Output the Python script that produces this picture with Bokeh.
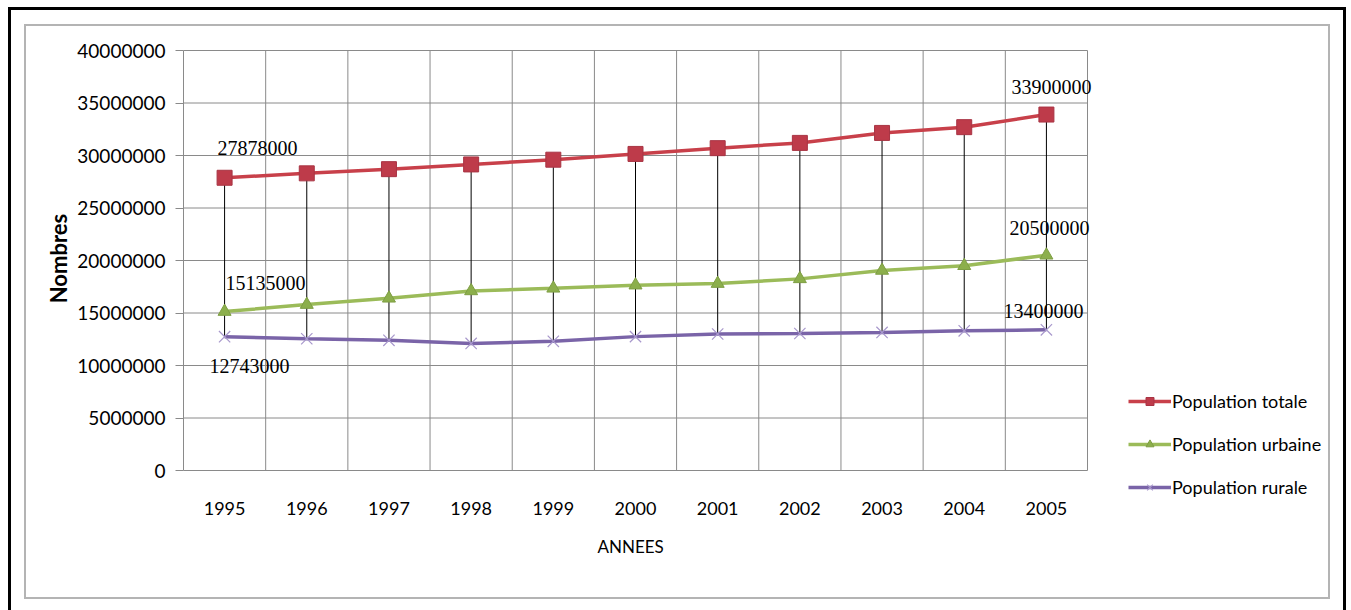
from bokeh.plotting import figure
from bokeh.models import (ColumnDataSource, FixedTicker, NumeralTickFormatter,
                          Legend, LegendItem, Range1d, InlineStyleSheet, Title)
from bokeh.core.properties import value
from bokeh.embed import file_html
from bokeh.resources import INLINE

# Population de 1995 a 2005
years = ["1995", "1996", "1997", "1998", "1999", "2000",
         "2001", "2002", "2003", "2004", "2005"]
total = [27878000, 28300000, 28700000, 29150000, 29600000, 30150000,
         30700000, 31200000, 32150000, 32700000, 33900000]
urban = [15135000, 15800000, 16400000, 17100000, 17350000, 17650000,
         17800000, 18250000, 19050000, 19500000, 20500000]
rural = [12743000, 12550000, 12400000, 12100000, 12300000, 12750000,
         13000000, 13050000, 13150000, 13300000, 13400000]
y_ticks = [0, 5000000, 10000000, 15000000, 20000000,
           25000000, 30000000, 35000000, 40000000]

series_names = ["Population totale", "Population urbaine", "Population rurale"]

idx = list(range(len(years)))
bounds_x = [i - 0.5 for i in range(len(years) + 1)]
x_lo, x_hi = bounds_x[0], bounds_x[-1]
y_lo, y_hi = y_ticks[0], y_ticks[-1]

SANS = "Lato"
SERIF = "Liberation Serif"

# page geometry (px): the drawing frame is larger than the plotting area
# (x 183..1087, y 50..470) so the legend beside it is not clipped
W, H = 1351, 610
B_LEFT, B_RIGHT, B_TOP, B_BOTTOM = 183, 22, 17, 111
AREA_LEFT, AREA_RIGHT, AREA_TOP, AREA_BOTTOM = 183, 1087, 50, 470
px_x = (x_hi - x_lo) / (AREA_RIGHT - AREA_LEFT)
px_y = (y_hi - y_lo) / (AREA_BOTTOM - AREA_TOP)
x_end = x_hi + px_x * ((W - B_RIGHT) - AREA_RIGHT)
y_start = y_lo - px_y * ((H - B_BOTTOM) - AREA_BOTTOM)
y_end = y_hi + px_y * (AREA_TOP - B_TOP)

p = figure(width=W, height=H, output_backend="svg", toolbar_location=None,
           x_range=Range1d(x_lo, x_end), y_range=Range1d(y_start, y_end),
           min_border_left=B_LEFT, min_border_right=B_RIGHT,
           min_border_top=B_TOP, min_border_bottom=B_BOTTOM)
p.background_fill_color = "white"
p.border_fill_color = "white"
p.outline_line_color = None
p.xgrid.grid_line_color = None
p.ygrid.grid_line_color = None

GRID = "#8a8a8a"

# grid of the plotting area: horizontal at y ticks, vertical at year boundaries
p.segment(x0=[x_lo] * len(y_ticks), y0=y_ticks, x1=[x_hi] * len(y_ticks), y1=y_ticks,
          line_color=GRID, line_width=1)
p.segment(x0=bounds_x, y0=[y_lo] * len(bounds_x), x1=bounds_x, y1=[y_hi] * len(bounds_x),
          line_color=GRID, line_width=1)

# y axis
p.yaxis.bounds = (y_lo, y_hi)
p.yaxis.ticker = FixedTicker(ticks=y_ticks)
p.yaxis.formatter = NumeralTickFormatter(format="0")
p.yaxis.axis_line_color = GRID
p.yaxis.major_tick_line_color = GRID
p.yaxis.major_tick_out = 8
p.yaxis.major_tick_in = 0
p.yaxis.minor_tick_line_color = None
p.yaxis.major_label_standoff = 10
p.yaxis.major_label_text_font = SANS
p.yaxis.major_label_text_font_size = "19px"
p.yaxis.major_label_text_color = "black"
p.yaxis.axis_label = "Nombres"
p.yaxis.axis_label_text_font = SANS
p.yaxis.axis_label_text_font_size = "22px"
p.yaxis.axis_label_text_font_style = "bold"
p.yaxis.axis_label_text_color = "black"
p.yaxis.axis_label_standoff = 2

# x axis: year labels just under the zero line
p.xaxis.ticker = FixedTicker(ticks=idx)
p.xaxis.major_label_overrides = {i: y for i, y in zip(idx, years)}
p.xaxis.axis_line_color = None
p.xaxis.major_tick_line_color = None
p.xaxis.minor_tick_line_color = None
p.xaxis.major_label_standoff = -4
p.xaxis.major_label_text_font = SANS
p.xaxis.major_label_text_font_size = "18px"
p.xaxis.major_label_text_color = "black"

p.add_layout(Title(text="ANNEES", align="left", offset=414, standoff=33,
                   text_font=SANS, text_font_size="17px", text_font_style="normal",
                   text_color="black"), "below")

src = ColumnDataSource(dict(x=idx, year=years, total=total, urban=urban, rural=rural))

# high-low lines between the top and bottom series
p.segment(x0="x", y0="rural", x1="x", y1="total", source=src,
          line_color="black", line_width=1)

r_tot_l = p.line("x", "total", source=src, line_color="#C8404A", line_width=3.5)
r_tot_m = p.scatter("x", "total", source=src, marker="square", size=15,
                    fill_color="#BE3B4A", line_color="#A83444", line_width=1)
r_urb_l = p.line("x", "urban", source=src, line_color="#9BBB59", line_width=3.5)
r_urb_m = p.scatter("x", "urban", source=src, marker="triangle", size=13,
                    fill_color="#8CAF4C", line_color="#7E9E44", line_width=1)
r_rur_l = p.line("x", "rural", source=src, line_color="#7A64A8", line_width=3.5)
r_rur_m = p.scatter("x", "rural", source=src, marker="x", size=16,
                    line_color="#A898CC", line_width=1.2)

# value labels on the first and last years
first, last = 0, len(years) - 1
lab_x = [first, first, first, last, last, last]
lab_y = [total[first], urban[first], rural[first], total[last], urban[last], rural[last]]
lab_dx = [33, 41, 25, 5, 3, -3]
lab_dy = [-30, -29, 29, -28, -27, -19]
p.text(x=lab_x, y=lab_y, text=[str(v) for v in lab_y],
       x_offset=lab_dx, y_offset=lab_dy,
       text_align="center", text_baseline="middle",
       text_font=value(SERIF), text_font_size="20px", text_color="black")

legend = Legend(items=[
    LegendItem(label=series_names[0], renderers=[r_tot_l, r_tot_m]),
    LegendItem(label=series_names[1], renderers=[r_urb_l, r_urb_m]),
    LegendItem(label=series_names[2], renderers=[r_rur_l, r_rur_m]),
], location=(945, 1))
legend.border_line_color = None
legend.background_fill_alpha = 0
legend.padding = 0
legend.margin = 0
legend.spacing = 21
legend.glyph_width = 43
legend.glyph_height = 20
legend.label_height = 20
legend.label_standoff = 1
legend.label_text_font = SANS
legend.label_text_font_size = "18px"
legend.label_text_color = "black"
p.add_layout(legend, "center")

# outer black frame and inner grey chart-area frame
frames_css = """
:host::before {
  content: ""; position: absolute; left: 8px; top: 7px;
  width: 1338px; height: 603px; box-sizing: border-box;
  border: 3px solid #000; border-bottom: none;
  pointer-events: none; z-index: 10;
}
:host::after {
  content: ""; position: absolute; left: 24px; top: 24px;
  width: 1306px; height: 575px; box-sizing: border-box;
  border: 2px solid #b4b4b4;
  pointer-events: none; z-index: 10;
}
"""
p.stylesheets = [InlineStyleSheet(css=frames_css)]

open("out.html", "w").write(file_html(p, INLINE))
